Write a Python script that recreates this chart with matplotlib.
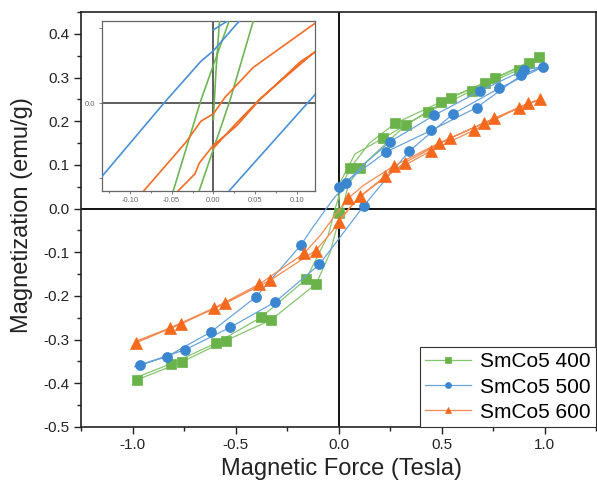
import matplotlib
matplotlib.use("Agg")
import matplotlib.pyplot as plt
import numpy as np
from matplotlib.ticker import AutoMinorLocator, FormatStrFormatter, MultipleLocator

plt.rcParams['font.family'] = ['Liberation Sans', 'DejaVu Sans']
plt.rcParams['axes.unicode_minus'] = False

# ---------------- data (H in Tesla, M in emu/g) ----------------
# each path: virgin curve (0 -> +1), descending branch (+1 -> -1), ascending branch (-1 -> +1)
labels = ['SmCo5 400', 'SmCo5 500', 'SmCo5 600']

g_h = [0.000, 0.003, 0.008, 0.080, 0.216, 0.436, 0.649, 0.875, 0.990,
       0.925, 0.710, 0.496, 0.275, 0.150, 0.057, 0.019, -0.015, -0.049, -0.158, -0.376, -0.594, -0.812, -0.990,
       -0.978, -0.760, -0.546, -0.328, -0.108, -0.040, -0.018, 0.020, 0.048, 0.105, 0.326, 0.544, 0.762, 0.972]
g_m = [-0.011, 0.020, 0.060, 0.125, 0.161, 0.222, 0.270, 0.318, 0.350,
       0.333, 0.288, 0.244, 0.195, 0.150, 0.093, 0.055, 0.002, -0.060, -0.162, -0.249, -0.308, -0.355, -0.388,
       -0.392, -0.351, -0.302, -0.255, -0.172, -0.100, -0.060, 0.002, 0.055, 0.094, 0.191, 0.254, 0.299, 0.347]
g_mark = [1, 0, 0, 0, 1, 1, 1, 1, 0,
          1, 1, 1, 1, 0, 1, 0, 0, 0, 1, 1, 1, 1, 0,
          1, 1, 1, 1, 1, 0, 0, 0, 0, 1, 1, 1, 1, 1]

b_h = [0.000, 0.232, 0.450, 0.670, 0.886, 0.990,
       0.899, 0.686, 0.466, 0.250, 0.120, 0.036, 0.000, -0.015, -0.058, -0.131, -0.183, -0.400, -0.618, -0.833, -0.990,
       -0.965, -0.744, -0.526, -0.308, -0.093, 0.018, 0.124, 0.342, 0.557, 0.778, 0.993]
b_m = [0.049, 0.130, 0.179, 0.231, 0.305, 0.325,
       0.317, 0.269, 0.214, 0.153, 0.100, 0.058, 0.035, 0.028, 0.001, -0.047, -0.084, -0.202, -0.282, -0.339, -0.362,
       -0.358, -0.323, -0.272, -0.214, -0.128, -0.059, 0.007, 0.131, 0.217, 0.275, 0.324]
b_mark = [1, 1, 1, 1, 1, 0,
          1, 1, 1, 1, 0, 1, 0, 0, 0, 0, 1, 1, 1, 1, 0,
          1, 1, 1, 1, 1, 0, 1, 1, 1, 1, 1]

o_h = [0.000, 0.028, 0.058, 0.121, 0.226, 0.447, 0.660, 0.875, 0.990,
       0.920, 0.705, 0.488, 0.270, 0.121, 0.048, 0.014, 0.000, -0.015, -0.033, -0.086, -0.166, -0.384, -0.602, -0.817, -0.990,
       -0.982, -0.764, -0.549, -0.331, -0.111, -0.045, -0.022, -0.017, 0.000, 0.028, 0.055, 0.105, 0.321, 0.541, 0.757, 0.977]
o_m = [-0.030, -0.013, 0.004, 0.034, 0.074, 0.132, 0.180, 0.231, 0.252,
       0.241, 0.195, 0.150, 0.098, 0.053, 0.024, 0.004, -0.007, -0.012, -0.026, -0.060, -0.102, -0.173, -0.227, -0.273, -0.305,
       -0.307, -0.264, -0.217, -0.164, -0.096, -0.060, -0.047, -0.040, -0.028, -0.015, 0.002, 0.028, 0.105, 0.161, 0.207, 0.250]
o_mark = [1, 0, 0, 0, 1, 1, 1, 1, 0,
          1, 1, 1, 1, 0, 1, 0, 0, 0, 0, 0, 1, 1, 1, 1, 0,
          1, 1, 1, 1, 1, 0, 0, 0, 0, 0, 0, 1, 1, 1, 1, 1]

x_ticks = [-1.0, -0.5, 0.0, 0.5, 1.0]
y_ticks = [-0.5, -0.4, -0.3, -0.2, -0.1, 0.0, 0.1, 0.2, 0.3, 0.4]
inset_x_ticks = [-0.10, -0.05, 0.00, 0.05, 0.10]
inset_y_ticks = [-0.05, 0.0, 0.05]
inset_y_labels = ['', '0.0', '']

# ---------------- styles ----------------
series = [
    (g_h, g_m, g_mark, 's', 6.8, '#6AB34A', '#86C46F', '#6DB656'),
    (b_h, b_m, b_mark, 'o', 7.2, '#3A86D0', '#6AA3DC', '#4A90D6'),
    (o_h, o_m, o_mark, '^', 8.2, '#F4691E', '#F58A52', '#F26C25'),
]

W, H = 597, 492
fig = plt.figure(figsize=(W / 100, H / 100), dpi=100)
ax = fig.add_axes([81 / W, 65 / H, 515 / W, 415 / H])

ax.axhline(0, color='#111111', lw=1.4, zorder=1)
ax.axvline(0, color='#111111', lw=1.4, zorder=1)

for (hh, mm, flags, mk, ms, cmark, cline, _), lab in zip(series, labels):
    idx = [i for i, f in enumerate(flags) if f]
    ax.plot(hh, mm, color=cline, lw=0.9, marker=mk, ms=ms, markevery=idx,
            mfc=cmark, mec=cmark, mew=0.5, label=lab, zorder=3)

ax.set_xlim(-1.25, 1.25)
ax.set_ylim(-0.5, 0.45)
ax.set_xticks(x_ticks)
ax.set_yticks(y_ticks)
ax.xaxis.set_major_formatter(FormatStrFormatter('%.1f'))
ax.yaxis.set_major_formatter(FormatStrFormatter('%.1f'))
ax.xaxis.set_minor_locator(AutoMinorLocator(2))
ax.yaxis.set_minor_locator(AutoMinorLocator(2))
ax.tick_params(which='major', direction='out', length=5, width=1.0, labelsize=11,
               colors='#222222', pad=3)
ax.tick_params(which='minor', direction='out', length=3, width=1.0, colors='#222222')
for s in ax.spines.values():
    s.set_color('#222222')
    s.set_linewidth(1.2)

ax.set_xlabel('Magnetic Force (Tesla)', fontsize=17, color='#222222')
ax.set_ylabel('Magnetization (emu/g)', fontsize=17, color='#222222')
ax.xaxis.set_label_coords(0.505, -0.075)
ax.yaxis.set_label_coords(-0.093, 0.51)

leg = ax.legend(loc='lower right', borderaxespad=0, fontsize=15, frameon=True,
                fancybox=False, edgecolor='#333333', framealpha=1,
                handlelength=2.2, handletextpad=0.45, labelspacing=0.3,
                borderpad=0.25, markerscale=0.6)
leg.get_frame().set_linewidth(0.8)
leg.set_zorder(10)

# ---------------- inset ----------------
axin = fig.add_axes([101.7 / W, (H - 190.7) / H, (315 - 101.7) / W, (190.7 - 20.7) / H])
axin.set_facecolor('white')
axin.axhline(0, color='#444444', lw=1.2, zorder=1)
axin.axvline(0, color='#444444', lw=1.2, zorder=1)
for (hh, mm, flags, mk, ms, cmark, cline, cin) in series:
    axin.plot(hh, mm, color=cin, lw=1.2, zorder=3)
axin.set_xlim(-0.134, 0.122)
axin.set_ylim(-0.0583, 0.0551)
axin.set_xticks(inset_x_ticks)
axin.set_xticklabels(['%.2f' % v for v in inset_x_ticks])
axin.set_yticks(inset_y_ticks)
axin.set_yticklabels(inset_y_labels)
axin.xaxis.set_minor_locator(MultipleLocator(0.025))
axin.tick_params(which='major', direction='out', length=2.5, width=0.6, labelsize=5.5,
                 colors='#666666', pad=2)
axin.tick_params(which='minor', direction='out', length=1.5, width=0.6, colors='#666666')
for s in axin.spines.values():
    s.set_color('#666666')
    s.set_linewidth(0.9)

fig.savefig('out.png', dpi=100)
